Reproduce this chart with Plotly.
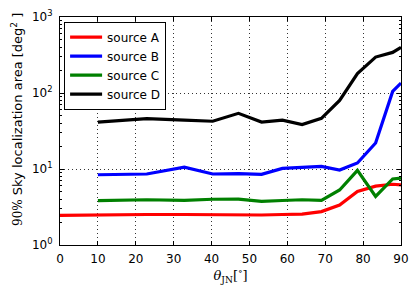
import plotly.graph_objects as go

theta = [10, 22.9, 32.8, 40.3, 47.1, 53.2, 58.7, 63.9, 69.0, 73.8, 78.5, 83.3, 87.8, 90]
theta_a = [0] + theta
source_a = [2.45, 2.5, 2.52, 2.52, 2.5, 2.47, 2.48, 2.52, 2.55, 2.75, 3.35, 5.05, 5.95, 6.3, 6.2]
source_b = [8.4, 8.6, 10.6, 8.6, 8.7, 8.5, 10.2, 10.5, 10.8, 9.7, 12.0, 22.0, 105, 135]
source_c = [3.83, 3.94, 3.86, 4.0, 4.02, 3.75, 3.85, 3.94, 3.86, 5.3, 9.6, 4.36, 7.4, 7.6]
source_d = [41.5, 46, 44, 42.5, 54, 41.5, 44, 38.4, 46.5, 80, 180, 297, 342, 398]

x_ticks = [0, 10, 20, 30, 40, 50, 60, 70, 80, 90]
y_ticks = [1, 10, 100, 1000]
y_ticktext = ["10<sup>0</sup>", "10<sup>1</sup>", "10<sup>2</sup>", "10<sup>3</sup>"]

fig = go.Figure()
series = [
    ("source A", theta_a, source_a, "#ff0000"),
    ("source B", theta, source_b, "#0000ff"),
    ("source C", theta, source_c, "#008000"),
    ("source D", theta, source_d, "#000000"),
]
for name, xs, ys, col in series:
    fig.add_trace(go.Scatter(x=xs, y=ys, mode="lines", name=name,
                             line=dict(color=col, width=3.2)))

axis_common = dict(
    showline=True, linecolor="black", linewidth=1, mirror="allticks",
    ticks="inside", ticklen=4, tickcolor="black", tickwidth=1,
    showgrid=True, gridcolor="#333333", griddash="1px,3px", gridwidth=0.8,
    zeroline=False, automargin=False,
    tickfont=dict(family="DejaVu Sans", size=12, color="black"),
)

fig.update_xaxes(
    range=[0, 90], tickvals=x_ticks, ticktext=[str(v) for v in x_ticks],
    title=dict(text="<i>θ</i><sub>JN</sub>[<sup>∘</sup>]",
               font=dict(family="DejaVu Serif", size=13, color="black"), standoff=4),
    ticklabelstandoff=3,
    **axis_common,
)
fig.update_yaxes(
    type="log", range=[0, 3], tickvals=y_ticks, ticktext=y_ticktext,
    ticklabelstandoff=4,
    minor=dict(ticks="inside", ticklen=2, tickcolor="black", dtick="D1", showgrid=False),
    **axis_common,
)

fig.add_annotation(
    text="<span style='font-family:DejaVu Serif;font-size:12px'>90%</span> Sky localization area [deg<sup>2</sup> ]",
    textangle=-90, xref="paper", yref="paper", x=0, y=0.5,
    xanchor="center", yanchor="middle", xshift=-43, yshift=11,
    showarrow=False, font=dict(family="DejaVu Sans", size=13, color="black"),
)

fig.update_layout(
    width=415, height=292,
    margin=dict(l=60, r=14, t=17, b=47),
    plot_bgcolor="white", paper_bgcolor="white",
    legend=dict(x=0.012, y=0.98, xanchor="left", yanchor="top",
                bgcolor="white", bordercolor="black", borderwidth=1,
                font=dict(family="DejaVu Sans", size=12, color="black"),
                tracegroupgap=0, itemwidth=32),
    showlegend=True,
)

fig.write_html("out.html", config={"displayModeBar": False},
               post_script="document.body.style.margin='0';document.body.style.padding='0';")
